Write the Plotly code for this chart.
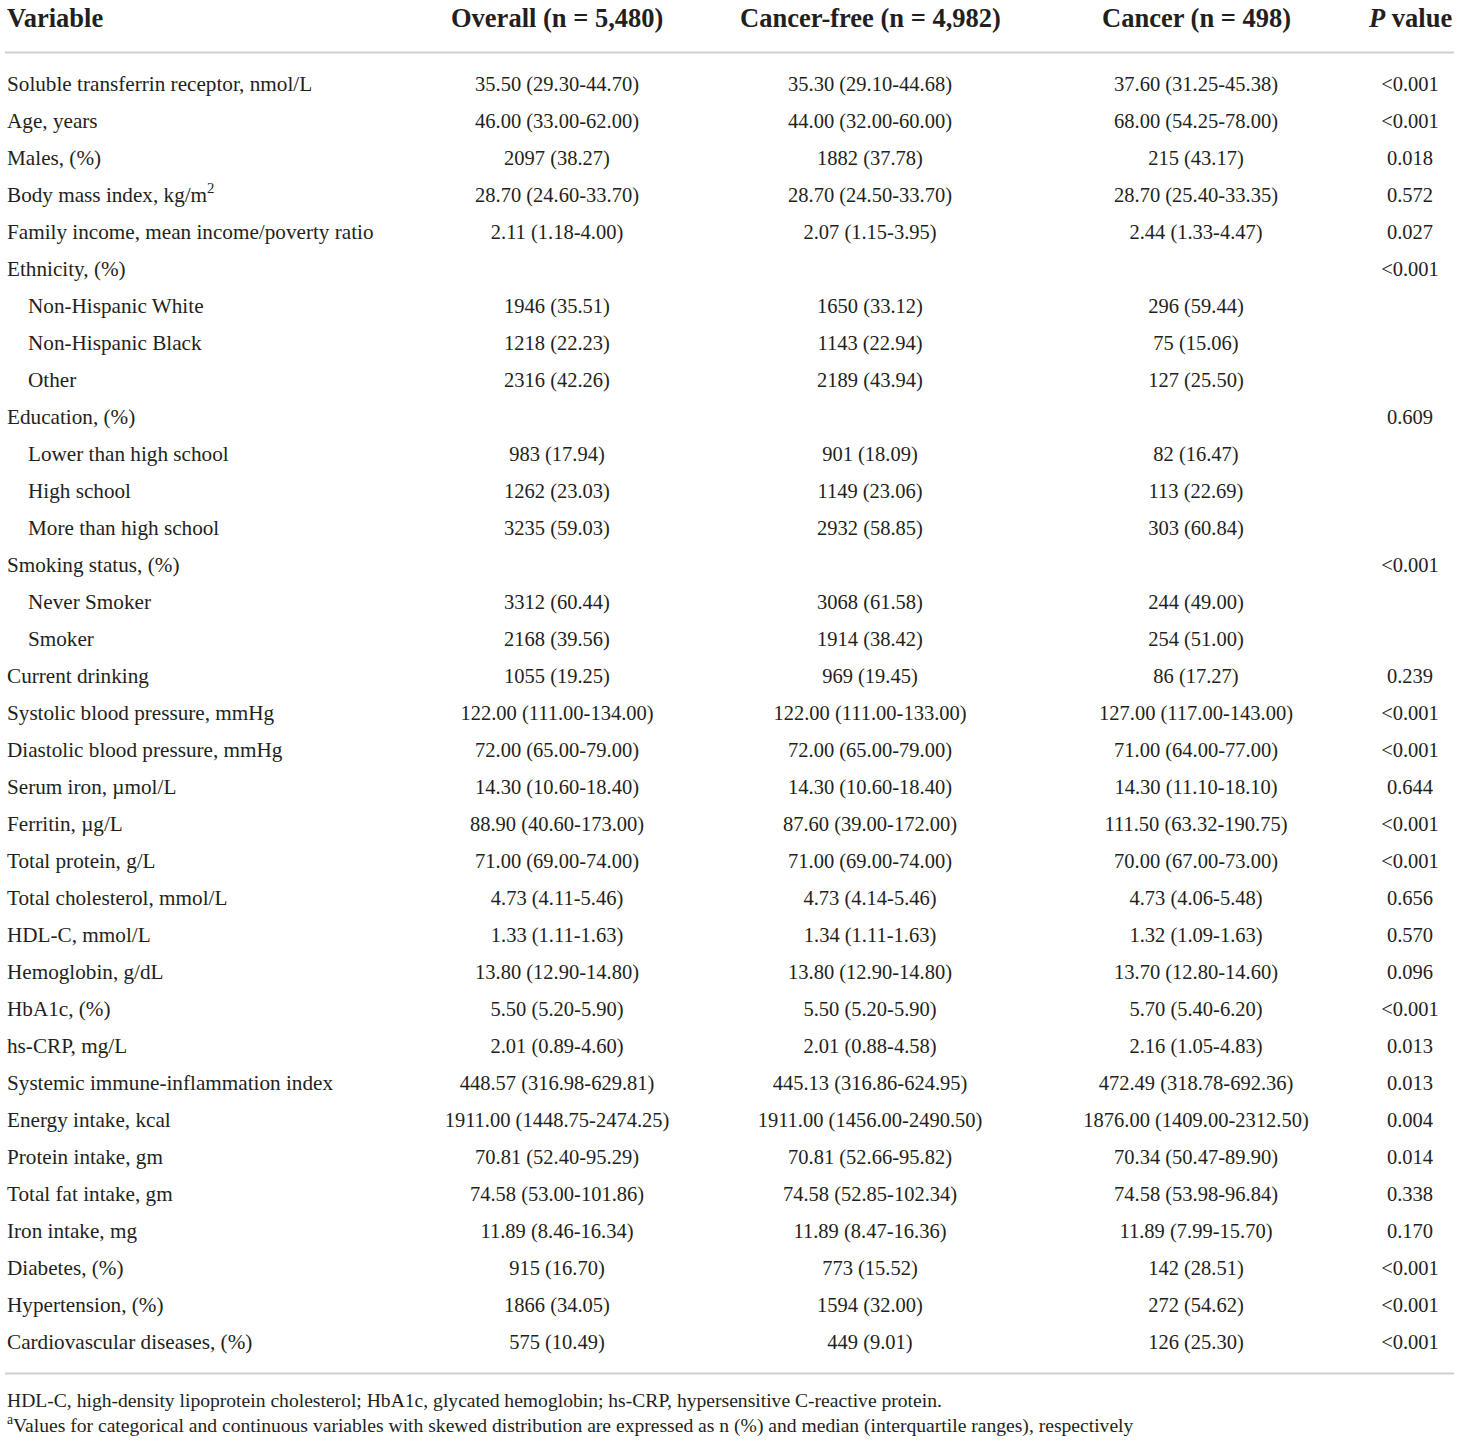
import plotly.graph_objects as go

# ---------------- data ----------------
variables = [
    "Soluble transferrin receptor, nmol/L",
    "Age, years",
    "Males, (%)",
    "Body mass index, kg/m<sup>2</sup>",
    "Family income, mean income/poverty ratio",
    "Ethnicity, (%)",
    "Non-Hispanic White",
    "Non-Hispanic Black",
    "Other",
    "Education, (%)",
    "Lower than high school",
    "High school",
    "More than high school",
    "Smoking status, (%)",
    "Never Smoker",
    "Smoker",
    "Current drinking",
    "Systolic blood pressure, mmHg",
    "Diastolic blood pressure, mmHg",
    "Serum iron, \u00b5mol/L",
    "Ferritin, \u00b5g/L",
    "Total protein, g/L",
    "Total cholesterol, mmol/L",
    "HDL-C, mmol/L",
    "Hemoglobin, g/dL",
    "HbA1c, (%)",
    "hs-CRP, mg/L",
    "Systemic immune-inflammation index",
    "Energy intake, kcal",
    "Protein intake, gm",
    "Total fat intake, gm",
    "Iron intake, mg",
    "Diabetes, (%)",
    "Hypertension, (%)",
    "Cardiovascular diseases, (%)",
]

sub_items = {
    "Non-Hispanic White", "Non-Hispanic Black", "Other",
    "Lower than high school", "High school", "More than high school",
    "Never Smoker", "Smoker",
}

overall = [
    "35.50 (29.30-44.70)", "46.00 (33.00-62.00)", "2097 (38.27)",
    "28.70 (24.60-33.70)", "2.11 (1.18-4.00)", "",
    "1946 (35.51)", "1218 (22.23)", "2316 (42.26)", "",
    "983 (17.94)", "1262 (23.03)", "3235 (59.03)", "",
    "3312 (60.44)", "2168 (39.56)", "1055 (19.25)",
    "122.00 (111.00-134.00)", "72.00 (65.00-79.00)", "14.30 (10.60-18.40)",
    "88.90 (40.60-173.00)", "71.00 (69.00-74.00)", "4.73 (4.11-5.46)",
    "1.33 (1.11-1.63)", "13.80 (12.90-14.80)", "5.50 (5.20-5.90)",
    "2.01 (0.89-4.60)", "448.57 (316.98-629.81)", "1911.00 (1448.75-2474.25)",
    "70.81 (52.40-95.29)", "74.58 (53.00-101.86)", "11.89 (8.46-16.34)",
    "915 (16.70)", "1866 (34.05)", "575 (10.49)",
]

cancer_free = [
    "35.30 (29.10-44.68)", "44.00 (32.00-60.00)", "1882 (37.78)",
    "28.70 (24.50-33.70)", "2.07 (1.15-3.95)", "",
    "1650 (33.12)", "1143 (22.94)", "2189 (43.94)", "",
    "901 (18.09)", "1149 (23.06)", "2932 (58.85)", "",
    "3068 (61.58)", "1914 (38.42)", "969 (19.45)",
    "122.00 (111.00-133.00)", "72.00 (65.00-79.00)", "14.30 (10.60-18.40)",
    "87.60 (39.00-172.00)", "71.00 (69.00-74.00)", "4.73 (4.14-5.46)",
    "1.34 (1.11-1.63)", "13.80 (12.90-14.80)", "5.50 (5.20-5.90)",
    "2.01 (0.88-4.58)", "445.13 (316.86-624.95)", "1911.00 (1456.00-2490.50)",
    "70.81 (52.66-95.82)", "74.58 (52.85-102.34)", "11.89 (8.47-16.36)",
    "773 (15.52)", "1594 (32.00)", "449 (9.01)",
]

cancer = [
    "37.60 (31.25-45.38)", "68.00 (54.25-78.00)", "215 (43.17)",
    "28.70 (25.40-33.35)", "2.44 (1.33-4.47)", "",
    "296 (59.44)", "75 (15.06)", "127 (25.50)", "",
    "82 (16.47)", "113 (22.69)", "303 (60.84)", "",
    "244 (49.00)", "254 (51.00)", "86 (17.27)",
    "127.00 (117.00-143.00)", "71.00 (64.00-77.00)", "14.30 (11.10-18.10)",
    "111.50 (63.32-190.75)", "70.00 (67.00-73.00)", "4.73 (4.06-5.48)",
    "1.32 (1.09-1.63)", "13.70 (12.80-14.60)", "5.70 (5.40-6.20)",
    "2.16 (1.05-4.83)", "472.49 (318.78-692.36)", "1876.00 (1409.00-2312.50)",
    "70.34 (50.47-89.90)", "74.58 (53.98-96.84)", "11.89 (7.99-15.70)",
    "142 (28.51)", "272 (54.62)", "126 (25.30)",
]

p_values = [
    "<0.001", "<0.001", "0.018", "0.572", "0.027", "<0.001",
    "", "", "", "0.609", "", "", "", "<0.001", "", "",
    "0.239", "<0.001", "<0.001", "0.644", "<0.001", "<0.001",
    "0.656", "0.570", "0.096", "<0.001", "0.013", "0.013",
    "0.004", "0.014", "0.338", "0.170", "<0.001", "<0.001", "<0.001",
]

headers = [
    "<b>Variable</b>",
    "<b>Overall (n = 5,480)</b>",
    "<b>Cancer-free (n = 4,982)</b>",
    "<b>Cancer (n = 498)</b>",
    "<b><i>P</i> value</b>",
]

footnotes = [
    "HDL-C, high-density lipoprotein cholesterol; HbA1c, glycated hemoglobin; hs-CRP, hypersensitive C-reactive protein.",
    "<sup>a</sup>Values for categorical and continuous variables with skewed distribution are expressed as n (%) and median (interquartile ranges), respectively",
]

# ---------------- layout constants ----------------
W, H = 1460, 1442
FONT = "Liberation Serif"
COLOR = "#231f20"
ROW_PX = 37.0
FIRST_ROW_PX = 86.0
HEADER_PX = 18.0
col_x = [7, 557, 870, 1196, 1410]
indent_x = 28
rule_color = "#cfcfcf"

n = len(variables)
rows = list(range(n))

fig = go.Figure()

label_x = [indent_x if v in sub_items else col_x[0] for v in variables]
fig.add_trace(go.Scatter(
    x=label_x, y=rows, text=variables, mode="text",
    textposition="middle right",
    textfont=dict(family=FONT, size=21.2, color=COLOR),
    hoverinfo="skip", cliponaxis=False, showlegend=False,
))

for cx, col in zip(col_x[1:], [overall, cancer_free, cancer, p_values]):
    keep = [i for i, t in enumerate(col) if t]
    fig.add_trace(go.Scatter(
        x=[cx] * len(keep), y=[rows[i] for i in keep],
        text=[col[i] for i in keep], mode="text",
        textposition="middle center",
        textfont=dict(family=FONT, size=20.5, color=COLOR),
        hoverinfo="skip", cliponaxis=False, showlegend=False,
    ))


def px_to_row(py):
    return (py - FIRST_ROW_PX) / ROW_PX


# header row
for i, (cx, h) in enumerate(zip(col_x, headers)):
    fig.add_annotation(
        x=cx - (2 if i == 0 else 0), y=px_to_row(HEADER_PX), xref="x", yref="y",
        text=h, showarrow=False,
        xanchor="left" if i == 0 else "center", yanchor="middle",
        font=dict(family=FONT, size=26.5, color=COLOR),
    )

# rules
for py in (52.5, 1373.5):
    fig.add_shape(type="line", xref="x", yref="y",
                  x0=5, x1=1454, y0=px_to_row(py), y1=px_to_row(py),
                  line=dict(color=rule_color, width=2))

# footnotes
for py, t in zip((1400, 1424), footnotes):
    fig.add_annotation(
        x=col_x[0] - 2, y=px_to_row(py), xref="x", yref="y",
        text=t, showarrow=False, xanchor="left", yanchor="middle",
        font=dict(family=FONT, size=19.6, color=COLOR),
    )

fig.update_layout(
    width=W, height=H,
    margin=dict(l=0, r=0, t=0, b=0),
    paper_bgcolor="white", plot_bgcolor="white",
    xaxis=dict(range=[0, W], visible=False, fixedrange=True),
    yaxis=dict(range=[px_to_row(H), px_to_row(0)], visible=False, fixedrange=True),
)

fig.write_html(
    "out.html",
    config={"displayModeBar": False, "staticPlot": True},
    post_script="document.body.style.margin='0';document.body.style.overflow='hidden';",
)
